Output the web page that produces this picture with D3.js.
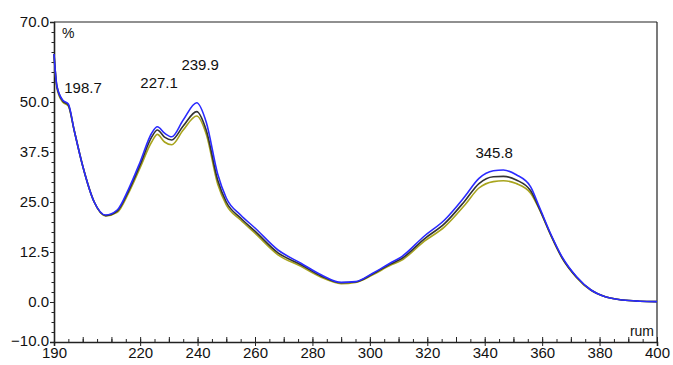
<!DOCTYPE html>
<html>
<head>
<meta charset="utf-8">
<script src="https://cdn.jsdelivr.net/npm/d3@7"></script>
<style>
  body { margin: 0; background: #fff; }
  svg { display: block; }
</style>
</head>
<body>
<svg id="chart" width="673" height="365"></svg>
<script>
// Wavelength (nm) sample points
const wavelengths = [190, 191, 193, 195, 197, 200, 204, 208, 212, 216, 220, 224, 226, 228.5, 231, 235, 239.7, 243, 247, 250, 255, 260, 268, 276, 283, 290, 295, 301, 307, 311, 319, 326, 333, 338, 343, 346.5, 351, 356, 359, 363, 367, 372, 377, 382, 388, 394, 400];

const blueValues = [62, 54, 50.5, 49.5, 43, 34, 25, 21.75, 23, 28.3, 35, 42.2, 43.8, 42.2, 41.3, 45.5, 49.8, 45, 32, 26, 21.75, 18.5, 13, 9.7, 6.8, 4.9, 5.1, 7.2, 9.7, 11.3, 16.5, 20.5, 26.3, 30.9, 32.8, 33, 31.8, 28.8, 23.8, 17, 11.2, 6.3, 3, 1.3, 0.5, 0.2, 0.1];
const blackValues = [62, 54, 50.3, 49.2, 43, 34, 25, 21.6, 22.7, 27.8, 34.3, 41.2, 43, 41.2, 40.5, 44, 47.6, 43, 30.5, 25, 21, 17.7, 12.3, 9.3, 6.5, 4.8, 5, 7, 9.4, 10.8, 15.8, 19.6, 25.2, 29.6, 31.3, 31.4, 30.5, 27.8, 23.4, 16.8, 11, 6.2, 3, 1.3, 0.5, 0.2, 0.1];
const yellowValues = [62, 53.5, 50, 49, 43, 34, 25, 21.5, 22.4, 27.3, 33.6, 40, 41.9, 40, 39.3, 43, 46.5, 42, 29.5, 24.3, 20.5, 17.2, 11.8, 8.9, 6.2, 4.6, 4.9, 6.8, 9.1, 10.4, 15.2, 18.8, 24.2, 28.5, 30.1, 30.3, 29.6, 27.2, 23.2, 16.7, 10.9, 6.1, 2.9, 1.3, 0.5, 0.2, 0.1];

const yTickValues = [70, 50, 37.5, 25, 12.5, 0, -10];
const xTickValues = [190, 220, 240, 260, 280, 300, 320, 340, 360, 380, 400];

// Peak annotations: text, where its centre sits (nm) and baseline (value)
const peakLabels = [
    { text: "198.7", at: 200.1, v: 52.3 },
    { text: "227.1", at: 226.6, v: 53.5 },
    { text: "239.9", at: 240.9, v: 58 },
    { text: "345.8", at: 343.3, v: 36 },
];

const width = 673, height = 365;
const margin = { top: 22, right: 16, bottom: 23, left: 54 };
const innerWidth = width - margin.left - margin.right;
const innerHeight = height - margin.top - margin.bottom;
const font = "'Liberation Sans', Arial, sans-serif";

const svg = d3.select("#chart");
svg.append("rect").attr("width", width).attr("height", height).attr("fill", "#fff");

const x = d3.scaleLinear().domain([190, 400]).range([0, innerWidth]);
const y = d3.scaleLinear().domain([-10, 70]).range([innerHeight, 0]);

const g = svg.append("g").attr("transform", `translate(${margin.left},${margin.top})`);

// Frame: top and right edges
g.append("line").attr("x1", 0).attr("x2", innerWidth).attr("y1", 0).attr("y2", 0)
    .attr("stroke", "#222").attr("stroke-width", 1.2);
g.append("line").attr("x1", innerWidth).attr("x2", innerWidth).attr("y1", 0).attr("y2", innerHeight)
    .attr("stroke", "#222").attr("stroke-width", 1.2);

// Minor ticks
const yMinor = d3.range(-10, 70.01, 2.5);
g.append("g").call(d3.axisLeft(y).tickValues(yMinor).tickSize(2.5).tickFormat(""))
    .call((a) => a.select(".domain").remove())
    .selectAll("line").attr("stroke", "#222");
const xMinor = d3.range(190, 400.01, 5);
g.append("g").attr("transform", `translate(0,${innerHeight})`)
    .call(d3.axisTop(x).tickValues(xMinor).tickSize(3).tickFormat(""))
    .call((a) => a.select(".domain").remove())
    .selectAll("line").attr("stroke", "#222");
const xMid = d3.range(190, 400.01, 10);
g.append("g").attr("transform", `translate(0,${innerHeight})`)
    .call(d3.axisTop(x).tickValues(xMid).tickSize(5).tickFormat(""))
    .call((a) => a.select(".domain").remove())
    .selectAll("line").attr("stroke", "#222");

// Y axis
const yAxisG = g.append("g").call(
    d3.axisLeft(y).tickValues(yTickValues).tickSize(4).tickPadding(1)
        .tickFormat((d) => d3.format(".1f")(d))
);
yAxisG.select(".domain").attr("stroke", "#222").attr("stroke-width", 1.6);
yAxisG.selectAll(".tick line").attr("stroke", "#222");
yAxisG.selectAll("text")
    .style("font-family", font).style("font-size", "15px").style("fill", "#111");
// lowest label sits slightly above its tick, as in the original
yAxisG.selectAll(".tick").filter((d) => d === -10).select("text").attr("dy", "0.2em");

// X axis
const xAxisG = g.append("g").attr("transform", `translate(0,${innerHeight})`)
    .call(d3.axisBottom(x).tickValues(xTickValues).tickSize(4).tickPadding(1));
xAxisG.select(".domain").attr("stroke", "#222").attr("stroke-width", 1.6);
xAxisG.selectAll(".tick line").attr("stroke", "#222");
xAxisG.selectAll("text")
    .style("font-family", font).style("font-size", "15px").style("fill", "#111");

// Unit labels
g.append("text").attr("x", 8).attr("y", 16).text("%")
    .style("font-family", font).style("font-size", "14px").style("fill", "#111");
g.append("text").attr("x", innerWidth - 3).attr("y", innerHeight - 6)
    .attr("text-anchor", "end").text("rum")
    .style("font-family", font).style("font-size", "14px").style("fill", "#111");

// Spectra
const series = [
    { values: yellowValues, color: "#a8a41c" },
    { values: blackValues, color: "#333333" },
    { values: blueValues, color: "#2a2aff" },
];
const line = d3.line()
    .x((d) => x(d[0]))
    .y((d) => y(d[1]))
    .curve(d3.curveMonotoneX);

series.forEach((s) => {
    g.append("path")
        .datum(wavelengths.map((w, i) => [w, s.values[i]]))
        .attr("fill", "none")
        .attr("stroke", s.color)
        .attr("stroke-width", 1.6)
        .attr("d", line);
});

// Peak labels
peakLabels.forEach((p) => {
    g.append("text")
        .attr("x", x(p.at))
        .attr("y", y(p.v))
        .attr("text-anchor", "middle")
        .text(p.text)
        .style("font-family", font).style("font-size", "15px").style("fill", "#111");
});
</script>
</body>
</html>
